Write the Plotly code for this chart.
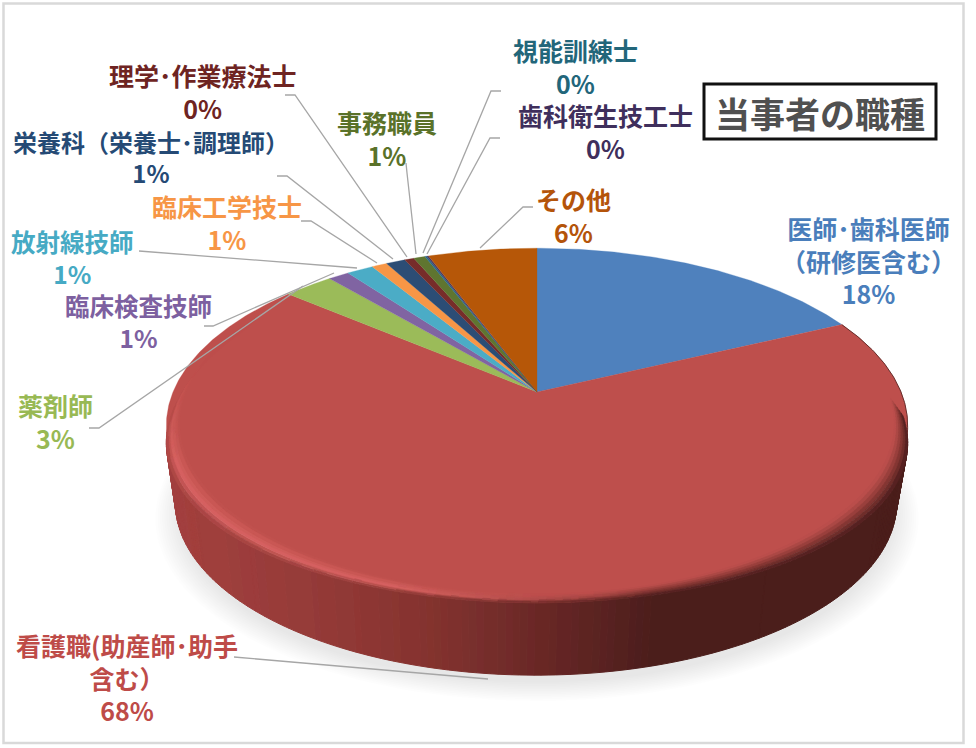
import numpy as np
import plotly.graph_objects as go

# ---- data ----
categories = ["医師･歯科医師<br>（研修医含む）", "看護職(助産師･助手<br>含む）", "薬剤師", "臨床検査技師", "放射線技師",
              "臨床工学技士", "栄養科（栄養士･調理師）", "理学･作業療法士", "事務職員", "視能訓練士",
              "歯科衛生技工士", "その他"]
values = [18.0, 68.1, 2.6, 1.1, 1.4, 0.8, 1.0, 0.5, 0.6, 0.1, 0.1, 5.7]
slice_colors = ["#4F81BD", "#BE4F4C", "#9BBB59", "#8064A2", "#4BACC6", "#F79646",
                "#2C4D75", "#772C2A", "#5F7530", "#276A8C", "#4D3B62", "#B65708"]
text_colors = ["#4A7EBB", "#BE4B48", "#98B954", "#7D60A0", "#46AAC4", "#F79646",
               "#254A75", "#6E2422", "#5A7229", "#22667A", "#3F2F5C", "#B4540A"]

# ---- layout (pixel space of the 976x748 page) ----
label_xy = [(868, 260), (127, 677), (55, 421), (138, 321), (72, 257), (227, 222),
            (151, 157), (203, 91), (387, 138), (575, 66), (605, 131), (573, 215)]
label_size = [25, 25, 25, 24.5, 24.5, 25, 24, 25, 25, 25, 25, 25]
leaders = [None,
           [(234, 657), (488, 679)],
           [(89, 428), (99, 428), (303, 286)],
           [(204, 326), (213, 326), (334, 273)],
           [(139, 251), (152, 252), (357, 268)],
           [(301, 221), (311, 221), (377, 263)],
           [(277, 176), (287, 176), (393, 259)],
           [(285, 95), (295, 95), (407, 257)],
           [(406, 163), (407, 173), (416, 254)],
           [(501, 91), (491, 91), (423, 253)],
           [(500, 138), (490, 138), (427, 254)],
           [(533, 207), (523, 207), (480, 248)]]
CX, CY, A, B, K = 537.0, 392.0, 364.0, 171.0, 0.189
FACE = "#BE4F4C"
CJK = "Noto Sans CJK JP"


def proj(phi, r=1.0, cx=CX, cy=CY, s=1.0):
    """phi = clockwise angle from 12 o'clock (radians); perspective projection of the disc."""
    u, v = r * np.sin(phi), r * np.cos(phi)
    w = 1 + K * v
    return cx + s * A * u / w, cy - s * B * v / w


def rgb(h):
    return np.array([int(h[i:i + 2], 16) for i in (1, 3, 5)], float)


def lerp(a, b, t):
    return a + (b - a) * t


def to_hex(c):
    c = np.clip(np.round(c / 3) * 3, 0, 255).astype(int)
    return "#%02X%02X%02X" % tuple(c)


fig = go.Figure()


def add_poly(x, y, color, line=0.0, opacity=1.0):
    fig.add_trace(go.Scatter(x=x, y=y, mode="lines", fill="toself", fillcolor=color, opacity=opacity,
                             line=dict(color=color, width=line), hoverinfo="skip", showlegend=False))


# soft shadow below the disc
full = np.linspace(0, 2 * np.pi, 240)
for i in range(12):
    sx, sy = proj(full, cx=537, cy=470 + 14 - i * 0.4, s=1.03 - i * 0.006)
    add_poly(sx, sy, "#000000", opacity=0.0085)

# side wall and bevel quads, bucketed by colour
buckets = {}


def put(color, xs, ys):
    b = buckets.setdefault(color, ([], []))
    b[0].extend(list(xs) + [xs[0], None])
    b[1].extend(list(ys) + [ys[0], None])


side_x = [170, 300, 420, 490, 537, 600, 650, 900]
side_c = [rgb(c) for c in ["#A3403E", "#963B39", "#86332F", "#752D2B", "#6A2725", "#5A2321", "#4C1D1C", "#4C1D1C"]]


def side_color(x):
    return np.array([np.interp(x, side_x, [c[k] for c in side_c]) for k in range(3)])


phi_start = np.radians(values[0] * 3.6)
phi_end = np.radians(sum(values[:2]) * 3.6)
phis = np.linspace(phi_start, phi_end, 260)


def drop(phi):
    return 18 * np.sin(phi) ** 2


for a0, a1 in zip(phis[:-1], phis[1:]):
    x0, y0 = proj(a0)
    x1, y1 = proj(a1)
    y0 += drop(a0)
    y1 += drop(a1)
    xb0, yb0 = proj(a0, cx=536, cy=470, s=0.973)
    xb1, yb1 = proj(a1, cx=536, cy=470, s=0.973)
    put(to_hex(side_color((x0 + x1) / 2)), [x0, x1, xb1, xb0], [y0, y1, yb1, yb0])

for c, (xs, ys) in buckets.items():
    fig.add_trace(go.Scatter(x=xs, y=ys, mode="lines", fill="toself", fillcolor=c,
                             line=dict(color=c, width=1), hoverinfo="skip", showlegend=False))

# top face slices
cum = np.concatenate([[0], np.cumsum(values)]) * 3.6
for i, val in enumerate(values):
    a = np.radians(np.linspace(cum[i], cum[i + 1], max(3, int(val * 6))))
    px, py = proj(a)
    add_poly(np.r_[CX, px, CX], np.r_[CY, py, CY], slice_colors[i], line=0.3)

# thin dark outline of the right rim, above the bevel's start
a = np.linspace(phi_start, np.radians(105), 60)
px, py = proj(a)
fig.add_trace(go.Scatter(x=px, y=py, mode="lines", line=dict(color="#5A2220", width=0.9),
                         hoverinfo="skip", showlegend=False))

# bevel round the front of the red slice
buckets = {}
steps = 6
face, hi = rgb(FACE), rgb("#D66260")
phis = np.linspace(np.radians(92), np.radians(300), 200)
for a0, a1 in zip(phis[:-1], phis[1:]):
    m = (a0 + a1) / 2
    deg = np.degrees(m)
    light = np.clip((deg - 165) / 35, 0, 1)
    inner_r = 0.965
    for j in range(steps):
        f0, f1 = j / steps, (j + 1) / steps
        fm = (f0 + f1) / 2
        sc = side_color(proj(m)[0])
        right = lerp(face, sc, fm ** 1.3)
        left = lerp(face, hi, fm / 0.6) if fm < 0.6 else lerp(hi, sc, (fm - 0.6) / 0.4)
        col = lerp(right, left, light)
        if deg > 250:
            col = lerp(col, face, np.clip((deg - 250) / 32, 0, 1))
        qx, qy = [], []
        for aa, ff in [(a0, f0), (a1, f0), (a1, f1), (a0, f1)]:
            xi, yi = proj(aa, r=inner_r)
            xo, yo = proj(aa)
            yo += drop(aa)
            qx.append(lerp(xi, xo, ff))
            qy.append(lerp(yi, yo, ff))
        put(to_hex(col), qx, qy)

for c, (xs, ys) in buckets.items():
    fig.add_trace(go.Scatter(x=xs, y=ys, mode="lines", fill="toself", fillcolor=c,
                             line=dict(color=c, width=0.6), hoverinfo="skip", showlegend=False))

# leader lines
for pts in leaders:
    if pts:
        fig.add_trace(go.Scatter(x=[p[0] for p in pts], y=[p[1] for p in pts], mode="lines",
                                 line=dict(color="#A6A6A6", width=1.3), hoverinfo="skip", showlegend=False))

# labels
annotations = []
for name, val, col, (lx, ly), sz in zip(categories, values, text_colors, label_xy, label_size):
    annotations.append(dict(x=lx, y=ly, xref="x", yref="y", text=f"{name}<br>{round(val)}%",
                            showarrow=False, align="center", xanchor="center", yanchor="middle",
                            font=dict(family=CJK, size=sz, color=col, weight=600)))
annotations.append(dict(x=820, y=112, xref="x", yref="y", text="当事者の職種", showarrow=False,
                        xanchor="center", yanchor="middle",
                        font=dict(family=CJK, size=35, color="#505050", weight=700)))

shapes = [
    dict(type="rect", xref="x", yref="y", x0=3.5, y0=3.5, x1=963.5, y1=743, line=dict(color="#D9D9D9", width=2.5),
         layer="above"),
    dict(type="rect", xref="x", yref="y", x0=704, y0=84, x1=936, y1=139, fillcolor="rgba(255,255,255,0)",
         line=dict(color="#111111", width=3), layer="above"),
]

fig.update_layout(
    width=976, height=748, margin=dict(l=0, r=0, t=0, b=0), paper_bgcolor="white", plot_bgcolor="white",
    xaxis=dict(range=[0, 976], visible=False, fixedrange=True),
    yaxis=dict(range=[748, 0], visible=False, fixedrange=True),
    showlegend=False, annotations=annotations, shapes=shapes,
)
fig.write_html("out.html", config={"displayModeBar": False},
               post_script="document.body.style.margin='0';document.documentElement.style.overflow='hidden';")
